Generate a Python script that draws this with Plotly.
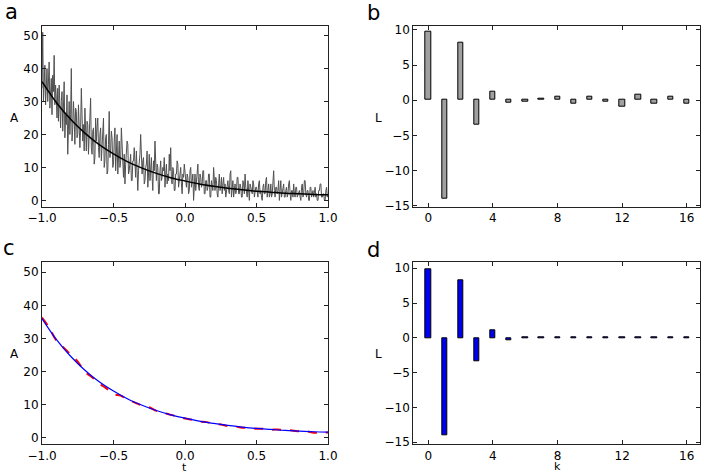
import plotly.graph_objects as go

# ---------------- data ----------------
# panel a: noisy measurements (t = -1 .. 1 in steps of 0.005)
t_noisy = [round(-1 + 0.005 * i, 3) for i in range(401)]
A_noisy = [
    34, 51, 30, 36, 41, 29, 33, 40, 30, 35, 42, 28, 31, 37, 26, 38, 33, 44, 29, 35,
    31, 25, 34, 24, 35, 27, 22, 30, 33, 21, 28, 36, 19, 26, 23, 32, 14, 24, 30, 20,
    26, 40, 18, 22, 30, 25, 17, 28, 27, 19, 20, 29, 24, 16, 22, 34, 26, 18, 23, 15,
    28, 20, 15, 24, 23, 14, 19, 27, 31, 16, 14, 21, 22, 11, 13, 25, 18, 22, 25, 16,
    13, 20, 22, 12, 17, 23, 25, 10, 12, 19, 20, 8, 9, 17, 27, 13, 15, 21, 19, 10,
    11, 18, 22, 9, 14, 20, 8, 13, 18, 10, 12, 22, 16, 9, 7, 14, 5, 11, 15, 18,
    17, 8, 9, 14, 14, 6, 6, 12, 12, 16, 10, 7, 15, 11, 3, 9, 11, 14, 20, 8,
    8, 12, 13, 5, 6, 10, 11, 15, 4, 8, 14, 6, 9, 13, 7, 3, 12, 9, 18, 7,
    6, 11, 10, 2, 2, 9, 12, 6, 7, 10, 9, 13, 4, 8, 11, 5, 8, 6, 14, 9,
    16, 6, 5, 10, 9, 3, 3, 8, 8, 12, 11, 4, 6, 9, 10, 5, 2, 8, 7, 11,
    9, 5, 4, 8, 7, 2, 3, 9, 10, 4, 6, 8, 0, 5, 8, 3, 5, 9, 11, 4,
    3, 8, 7, 4, 5, 9, 9, 2, 2, 6, 6, 3, 4, 8, 8, 1, 1, 6, 5, 3,
    10, 4, 3, 7, 6, 2, 1, 5, 8, 3, 4, 7, 2, 5, 7, 3, 5, 1, 3, 6,
    6, 3, 2, 8, 9, 1, 4, 6, 1, 5, 5, 2, 3, 7, 7, 2, 2, 5, 4, 1,
    1, 6, 5, 2, 8, 4, 3, 1, 6, 4, 0, 5, 4, 2, 2, 6, 5, 1, 3, 4,
    4, 2, 1, 5, 6, 2, 3, 1, 0, 4, 5, 2, 2, 6, 7, 1, 3, 5, 1, 2,
    5, 1, 2, 9, 9, 3, 1, 4, 4, 2, 3, 6, 0, 3, 6, 1, 2, 4, 5, 1,
    1, 3, 4, 1, 2, 5, 6, 2, 0, 3, 3, 1, 5, 2, 1, 4, 4, 1, 2, 3,
    3, 1, 0, 4, 5, 1, 2, 6, 6, 2, 1, 3, 3, 0, 0, 4, 4, 1, 2, 3,
    1, 3, 4, 1, 2, 0, 0, 3, 3, 5, 5, 1, 1, 2, 2, 0, 0, 3, 4, 1,
    2,
]

# fitted curve (panels a and c)
t_fit = [-1.0, -0.9, -0.8, -0.7, -0.6, -0.5, -0.4, -0.3, -0.2, -0.1, 0.0,
         0.1, 0.2, 0.3, 0.4, 0.5, 0.6, 0.7, 0.8, 0.9, 1.0]
A_fit = [36.0, 29.7, 24.6, 20.4, 16.9, 14.1, 11.7, 9.8, 8.2, 6.9, 5.9,
         5.0, 4.3, 3.7, 3.2, 2.8, 2.5, 2.2, 2.0, 1.8, 1.7]

# panel c: reconstructed curve (red dashed)
t_rec = [round(-1 + 0.05 * i, 2) for i in range(41)]
A_rec = [36.3, 33.3, 29.4, 27.3, 25.1, 23.0, 19.9, 18.3, 16.4, 14.9,
         13.2, 12.7, 11.5, 10.6, 9.7, 9.2, 8.1, 7.5, 6.9, 6.4,
         5.8, 5.4, 4.9, 4.7, 4.2, 4.0, 3.5, 3.4, 3.0, 3.0,
         2.7, 2.7, 2.4, 2.5, 2.2, 2.2, 1.9, 1.9, 1.5, 1.5, 1.6]

# panels b and d: coefficients
k = list(range(17))
L_b = [9.7, -14.0, 8.2, -3.45, 1.15, -0.4, -0.15, 0.15, 0.5, -0.5,
       0.55, -0.15, -0.9, 0.85, -0.55, 0.45, -0.45]
L_d = [9.8, -14.0, 8.2, -3.4, 1.1, -0.35, 0.08, 0.05, 0.05, 0.05,
       0.05, 0.05, 0.05, 0.05, 0.05, 0.08, 0.05]

t_ticks = [-1.0, -0.5, 0.0, 0.5, 1.0]
t_ticklabels = ["\u22121.0", "\u22120.5", "0.0", "0.5", "1.0"]
A_ticks = [0, 10, 20, 30, 40, 50]
k_ticks = [0, 4, 8, 12, 16]
L_ticks = [-15, -10, -5, 0, 5, 10]
L_ticklabels = ["\u221215", "\u221210", "\u22125", "0", "5", "10"]

# ---------------- figure ----------------
W, H = 704, 475
FONT = "DejaVu Sans"

fig = go.Figure()

fig.add_trace(go.Scatter(x=t_noisy, y=A_noisy, mode="lines",
                         line=dict(color="#505050", width=1),
                         xaxis="x", yaxis="y", showlegend=False))
fig.add_trace(go.Scatter(x=t_fit, y=A_fit, mode="lines",
                         line=dict(color="black", width=1.5, shape="spline"),
                         xaxis="x", yaxis="y", showlegend=False))

fig.add_trace(go.Bar(x=k, y=L_b, width=0.33,
                     marker=dict(color="#a0a0a0", line=dict(color="black", width=1)),
                     xaxis="x2", yaxis="y2", showlegend=False))

fig.add_trace(go.Scatter(x=t_rec, y=A_rec, mode="lines",
                         line=dict(color="red", width=2, dash="dash", shape="spline"),
                         xaxis="x3", yaxis="y3", showlegend=False))
fig.add_trace(go.Scatter(x=t_fit, y=A_fit, mode="lines",
                         line=dict(color="blue", width=1.2, shape="spline"),
                         xaxis="x3", yaxis="y3", showlegend=False))

fig.add_trace(go.Bar(x=k, y=L_d, width=0.33,
                     marker=dict(color="#0000ee", line=dict(color="black", width=1)),
                     xaxis="x4", yaxis="y4", showlegend=False))


def px_dom_x(a, b):
    return [a / W, b / W]


def px_dom_y(top, bottom):
    return [1 - bottom / H, 1 - top / H]


common = dict(showline=True, linecolor="#222222", linewidth=1, mirror="allticks",
              ticks="inside", ticklen=4, tickwidth=1, tickcolor="#222222",
              showgrid=False, zeroline=False, automargin=False,
              tickfont=dict(family=FONT, size=12, color="black"))

fig.update_layout(
    width=W, height=H,
    margin=dict(l=0, r=0, t=0, b=0),
    paper_bgcolor="white", plot_bgcolor="white",
    bargap=0,
    xaxis=dict(domain=px_dom_x(42, 328), anchor="y", range=[-1, 1],
               tickvals=t_ticks, ticktext=t_ticklabels, **common),
    yaxis=dict(domain=px_dom_y(25.7, 207), anchor="x", range=[-2, 53],
               tickvals=A_ticks, **common),
    xaxis2=dict(domain=px_dom_x(413.3, 700), anchor="y2", range=[-0.93, 16.82],
                tickvals=k_ticks, **common),
    yaxis2=dict(domain=px_dom_y(25.7, 207), anchor="x2", range=[-15.2, 10.6],
                tickvals=L_ticks, ticktext=L_ticklabels, **common),
    xaxis3=dict(domain=px_dom_x(42, 328), anchor="y3", range=[-1, 1],
                tickvals=t_ticks, ticktext=t_ticklabels, **common),
    yaxis3=dict(domain=px_dom_y(262.3, 444.3), anchor="x3", range=[-2, 53],
                tickvals=A_ticks, **common),
    xaxis4=dict(domain=px_dom_x(413.3, 700), anchor="y4", range=[-0.93, 16.82],
                tickvals=k_ticks, **common),
    yaxis4=dict(domain=px_dom_y(262.3, 444.3), anchor="x4", range=[-15.3, 10.85],
                tickvals=L_ticks, ticktext=L_ticklabels, **common),
)


def label(text, x, y, size, yanchor="middle"):
    fig.add_annotation(text=text, x=x / W, y=1 - y / H, xref="paper", yref="paper",
                       showarrow=False, xanchor="center", yanchor=yanchor,
                       borderpad=0,
                       font=dict(family=FONT, size=size, color="black"))


label("a", 11, 12, 21)
label("b", 373, 13, 21)
label("c", 9, 248, 21)
label("d", 373, 250, 21)
label("A", 15, 118, 12)
label("L", 378, 118, 12)
label("A", 15, 354, 12)
label("L", 378, 354, 12)
label("t", 185, 475, 11, yanchor="bottom")
label("k", 557, 474, 11, yanchor="bottom")

fig.write_html("out.html",
               config={"displayModeBar": False},
               post_script="document.body.style.margin='0';"
                           "document.body.style.overflow='hidden';")
